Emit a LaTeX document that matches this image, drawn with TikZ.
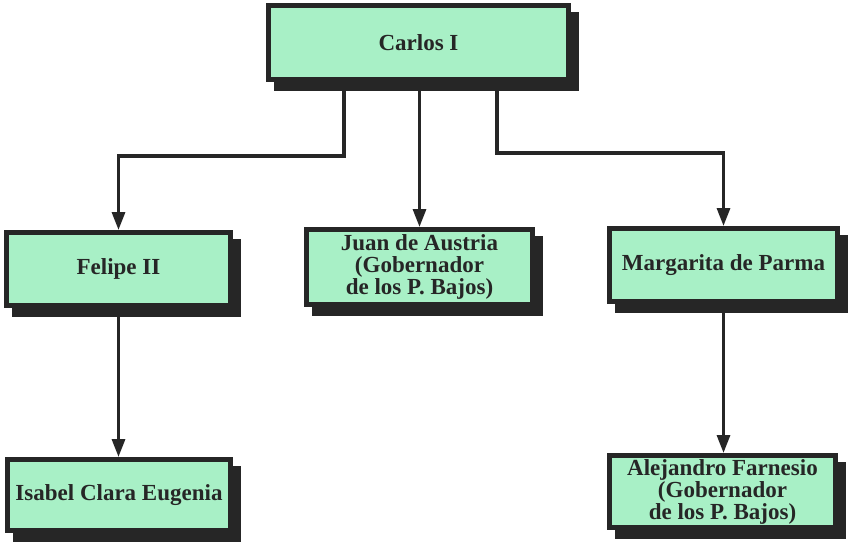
\documentclass[tikz,border=0pt]{standalone}
\usepackage{fontspec}
\setmainfont{Liberation Serif}
\usetikzlibrary{shadows,arrows.meta}
\definecolor{boxgreen}{RGB}{168,240,198}
\definecolor{inkc}{RGB}{38,38,38}
\tikzset{
  famnode/.style={draw=inkc, line width=5pt, fill=boxgreen, rectangle,
    align=center, inner sep=1pt,
    font=\bfseries\fontsize{23}{22}\selectfont, text=inkc,
    general shadow={fill=inkc, draw=inkc, line width=5pt,
      shadow xshift=8pt, shadow yshift=-9pt}},
  conn/.style={draw=inkc, line width=3.2pt,
    -{Triangle[length=18pt,width=13pt]}}
}
\begin{document}
\begin{tikzpicture}[x=1pt,y=-1pt]
\useasboundingbox (0,0) rectangle (849,543);
\node[famnode, minimum width=300pt, minimum height=74pt] (carlos) at (418.5,42.5) {Carlos I};
\node[famnode, minimum width=224pt, minimum height=73pt] (felipe) at (118.5,269) {Felipe II};
\node[famnode, minimum width=226pt, minimum height=75pt] (juan) at (419.5,267) {Juan de Austria\\(Gobernador\\de los P. Bajos)};
\node[famnode, minimum width=228pt, minimum height=73pt] (margarita) at (723.5,265) {Margarita de Parma};
\node[famnode, minimum width=223pt, minimum height=71pt] (isabel) at (119,495) {Isabel Clara Eugenia};
\node[famnode, minimum width=226pt, minimum height=72pt] (alejandro) at (722.5,491.5) {Alejandro Farnesio\\(Gobernador\\de los P. Bajos)};
\draw[conn] ([xshift=-74.5pt]carlos.south) -- ++(0,74) -| (felipe.north);
\draw[conn] ([xshift=78.5pt]carlos.south) -- ++(0,71) -| (margarita.north);
\draw[conn] (carlos.south -| juan.north) -- (juan.north);
\draw[conn] (felipe.south) -- (felipe.south |- isabel.north);
\draw[conn] (margarita.south) -- (margarita.south |- alejandro.north);
\end{tikzpicture}
\end{document}
